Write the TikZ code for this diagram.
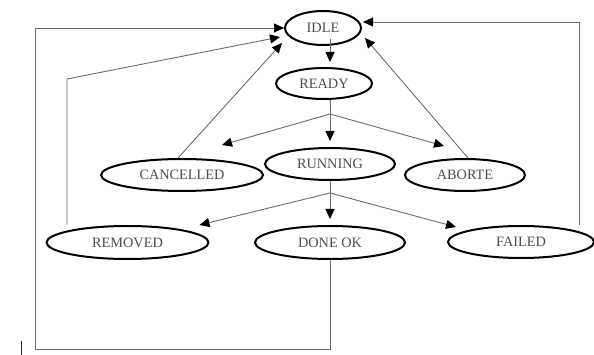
\documentclass[tikz,border=0pt]{standalone}
\usepackage{fontspec}
\setmainfont{Liberation Serif}
\usetikzlibrary{shapes.geometric,arrows.meta,calc}
\begin{document}
\begin{tikzpicture}[x=1pt,y=-1pt,
  state/.style={ellipse,draw=black,line width=2pt,inner sep=0pt,
    text=black!70,font=\fontsize{14.3}{16}\selectfont},
  link/.style={draw=black!58,line width=0.9pt},
  tip/.style={link,-{Triangle[length=10pt,width=9pt,color=black]}}]
\useasboundingbox (0,0) rectangle (594,355);

% states
\node[state,minimum width=76pt,minimum height=34pt]  (idle)      at (323,28)    {IDLE};
\node[state,minimum width=96pt,minimum height=31pt]  (ready)     at (324,83.5)  {READY};
\node[state,minimum width=130pt,minimum height=32pt] (running)   at (330,164)   {RUNNING};
\node[state,minimum width=162pt,minimum height=32pt] (cancelled) at (182,175)   {CANCELLED};
\node[state,minimum width=120pt,minimum height=32pt] (aborte)    at (465,175)   {ABORTE};
\node[state,minimum width=162pt,minimum height=33pt] (removed)   at (127.5,242.5) {REMOVED};
\node[state,minimum width=150pt,minimum height=33pt] (doneok)    at (330,242.5) {DONE OK};
\node[state,minimum width=146pt,minimum height=32pt] (failed)    at (521,242)   {FAILED};

% IDLE -> READY
\draw[tip] ($(idle.center)+(7,11)$) -- ($(ready.north -| running)+(0,-5)$);

% READY fans out
\coordinate (fork1) at ($(ready.south -| running)+(0,14)$);
\draw[link] (ready.south -| running) -- (fork1);
\draw[tip] (fork1) -- ($(cancelled.north)+(40,-13)$);
\draw[tip] (fork1) -- ($(running.north)+(0,-6)$);
\draw[tip] (fork1) -- ($(aborte.north)+(-21,-12)$);

% RUNNING fans out
\coordinate (fork2) at ($(running.south)+(0,12)$);
\draw[link] (running.south) -- (fork2);
\draw[tip] (fork2) -- ($(removed.north)+(72,0)$);
\draw[tip] (fork2) -- ($(doneok.north)+(0,-6)$);
\draw[tip] (fork2) -- ($(failed.north)+(-65,2)$);

% returns to IDLE
\draw[tip] ($(cancelled.north)+(-4,0)$) -- ($(idle.center)+(-41,15)$);
\draw[tip] ($(aborte.north)+(3,0)$) -- ($(idle.center)+(42,10)$);

\coordinate (rmvx) at (67,79);
\draw[tip] (removed.north -| rmvx) -- (rmvx) -- ($(idle.center)+(-43,9)$);

\coordinate (failx) at (579,0);
\draw[tip] (failed.north -| failx) |- ($(idle.center)+(40,-6)$);

\coordinate (outer) at (35,349);
\draw[tip] (doneok.south) |- (outer) |- (idle.west);

% text cursor mark
\draw[line width=1.4pt,black!85] (21.5,341) -- (21.5,355);
\end{tikzpicture}
\end{document}
